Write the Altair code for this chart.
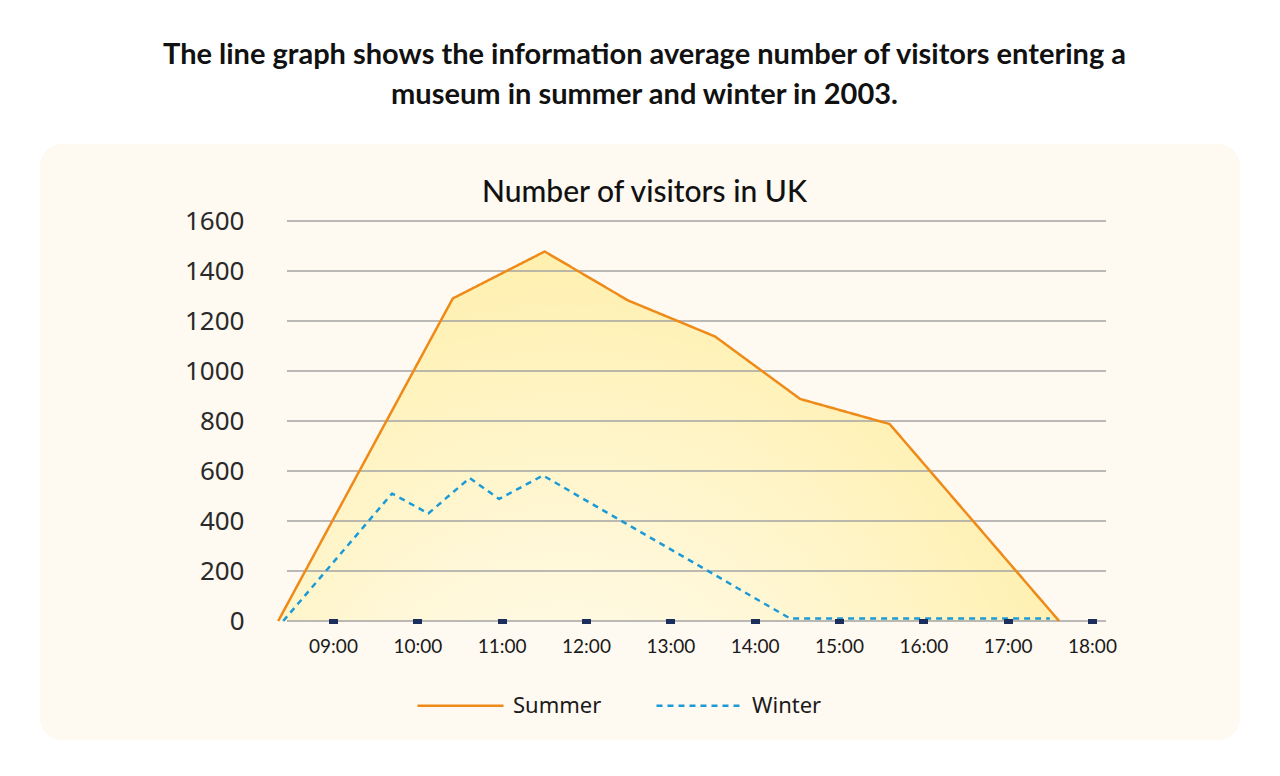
import altair as alt
import pandas as pd

# Data (hours as decimal numbers)
summer_hours = [8.35, 10.42, 11.51, 12.50, 13.53, 14.54, 15.60, 17.61]
summer_values = [0, 1290, 1478, 1282, 1138, 888, 788, 0]
winter_hours = [8.41, 9.70, 10.13, 10.62, 10.97, 11.49, 14.42, 17.50]
winter_values = [0, 510, 430, 572, 488, 582, 10, 10]
tick_hours = [9, 10, 11, 12, 13, 14, 15, 16, 17, 18]
tick_labels = ["09:00", "10:00", "11:00", "12:00", "13:00", "14:00", "15:00", "16:00", "17:00", "18:00"]
y_ticks = [0, 200, 400, 600, 800, 1000, 1200, 1400, 1600]
series_names = ["Summer", "Winter"]
series_colors = ["#EE8A17", "#1C9AD8"]

summer = pd.DataFrame({"hour": summer_hours, "visitors": summer_values, "series": "Summer"})
winter = pd.DataFrame({"hour": winter_hours, "visitors": winter_values, "series": "Winter"})
lines = pd.concat([summer, winter], ignore_index=True)
grid = pd.DataFrame({"visitors": y_ticks})

label_expr = "{" + ",".join(f"'{h}':'{l}'" for h, l in zip(tick_hours, tick_labels)) + "}[datum.value]"

W, H = 819, 400
LEFT, TOP = 287, 221

x_scale = alt.Scale(domain=[8.4545, 18.166], nice=False, zero=False)
y_scale = alt.Scale(domain=[0, 1600], nice=False)

x_axis = alt.Axis(
    values=tick_hours, labelExpr=label_expr, title=None, domain=False, grid=False,
    tickColor="#1B2E5C", tickSize=5, tickWidth=9, offset=-2.5, labelPadding=14,
    labelFont="Lato", labelFontSize=19, labelColor="#1a1a1a", zindex=1,
)
y_axis = alt.Axis(
    values=y_ticks, format="d", title=None, domain=False, ticks=False, grid=False,
    labelPadding=43, zindex=1,
    labelFont="Noto Sans", labelFontSize=26, labelColor="#2a2a2a",
)

card = alt.Chart(pd.DataFrame({"a": [0]})).mark_rect(
    color="#FEF9F1", cornerRadius=22
).encode(
    x=alt.value(40 - LEFT), x2=alt.value(1240 - LEFT),
    y=alt.value(144 - TOP), y2=alt.value(740 - TOP),
)

area = alt.Chart(summer).mark_area(
    color=alt.Gradient(
        gradient="radial",
        stops=[
            alt.GradientStop(color="#FFFDF7", offset=0),
            alt.GradientStop(color="#FFF7D6", offset=0.4),
            alt.GradientStop(color="#FFEEA3", offset=1),
        ],
        x1=0.37, y1=0.95, r1=0, x2=0.37, y2=0.95, r2=0.8,
    ),
    opacity=1,
).encode(
    x=alt.X("hour:Q", scale=x_scale, axis=x_axis),
    y=alt.Y("visitors:Q", scale=y_scale, axis=y_axis),
)

gridlines = alt.Chart(grid).mark_rule(color="#A3A3A3", strokeWidth=1.5).encode(
    y=alt.Y("visitors:Q", scale=y_scale),
    x=alt.value(0), x2=alt.value(W),
)

line = alt.Chart(lines).mark_line(strokeWidth=2.5, strokeJoin="round").encode(
    x=alt.X("hour:Q", scale=x_scale),
    y=alt.Y("visitors:Q", scale=y_scale),
    color=alt.Color(
        "series:N",
        scale=alt.Scale(domain=series_names, range=series_colors),
        legend=alt.Legend(
            title=None, orient="none", legendX=416 - LEFT, legendY=661 - TOP,
            direction="horizontal", symbolType="stroke", symbolSize=7400,
            symbolStrokeWidth=2.5, labelFont="Noto Sans", labelFontSize=22,
            labelColor="#1a1a1a", columnPadding=49, labelOffset=8,
        ),
    ),
    strokeDash=alt.StrokeDash(
        "series:N",
        scale=alt.Scale(domain=series_names, range=[[1, 0], [6, 5]]),
        legend=None,
    ),
    order=alt.Order("hour:Q"),
)

chart = alt.layer(card, area, gridlines, line).properties(
    width=W, height=H,
    autosize=alt.AutoSizeParams(type="none"),
    padding={"left": LEFT, "top": TOP, "right": 1280 - LEFT - W, "bottom": 776 - TOP - H},
    title=alt.TitleParams(
        text=["The line graph shows the information average number of visitors entering a",
              "museum in summer and winter in 2003."],
        subtitle="Number of visitors in UK",
        anchor="middle", frame="group", dx=-52, offset=-64,
        font="Lato", fontSize=29, fontWeight=700, color="#111111", lineHeight=40,
        subtitleFont="Lato", subtitleFontSize=30, subtitleFontWeight=500,
        subtitleColor="#111111", subtitlePadding=68,
    ),
).configure(background="#FFFFFF").configure_view(stroke=None)

chart.save("out.html", embed_options={"renderer": "svg", "actions": False})
